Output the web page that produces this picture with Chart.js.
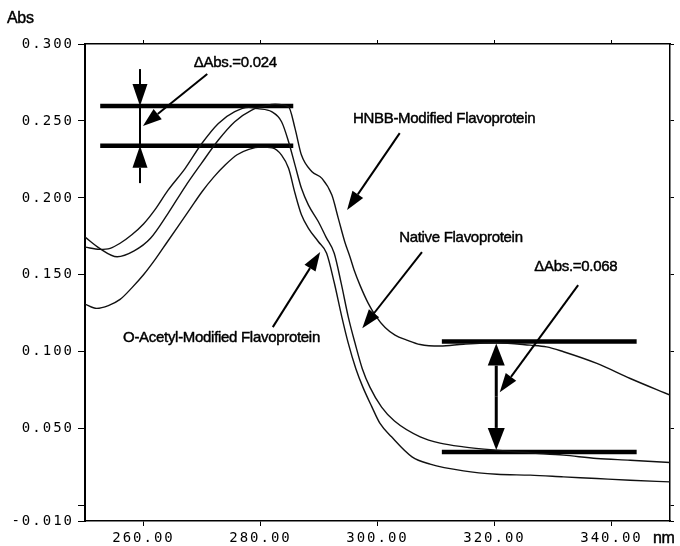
<!DOCTYPE html>
<html>
<head>
<meta charset="utf-8">
<title>Flavoprotein absorption spectra</title>
<script src="https://cdn.jsdelivr.net/npm/chart.js@4.4.1/dist/chart.umd.min.js"></script>
<style>
  html, body { margin: 0; padding: 0; background: #fff; }
  #wrap { width: 680px; height: 546px; }
</style>
</head>
<body>
<div id="wrap"><canvas id="spectra"></canvas></div>
<script>
// Spectra: wavelength (nm) and absorbance
const hnbbNm = [250, 252.5, 255.5, 258.4, 261.2, 264.2, 267.1, 269.9, 272.8, 275.6, 278.5, 281.0, 282.5, 284.8, 285.9, 287.0, 288.8, 290.5, 292.2, 293.3, 294.4, 295.3, 296.0, 297.0, 298.4, 299.6, 301.3, 303.0, 305.0, 307.3, 310.7, 314.7, 320.4, 326.1, 328.9, 331.8, 337.5, 343.2, 350];
const hnbbAbs = [0.1745, 0.1672, 0.1617, 0.1655, 0.1737, 0.1899, 0.2072, 0.2224, 0.2376, 0.2495, 0.2571, 0.2600, 0.2608, 0.2592, 0.2452, 0.2278, 0.2170, 0.2127, 0.2018, 0.1867, 0.1715, 0.1616, 0.1531, 0.1433, 0.1316, 0.1238, 0.1157, 0.1108, 0.1076, 0.1047, 0.1037, 0.1049, 0.1058, 0.1043, 0.1032, 0.1000, 0.0924, 0.0826, 0.0718];

const nativeNm = [250, 252.5, 254.3, 256.0, 258.0, 260.0, 262.0, 264.2, 267.1, 269.9, 272.8, 275.6, 278.0, 279.5, 281.9, 283.6, 284.8, 285.9, 287.0, 288.2, 289.9, 291.2, 292.6, 293.8, 295.0, 296.2, 297.4, 298.7, 300.7, 302.9, 307.3, 310.7, 314.7, 320.4, 326.1, 331.8, 337.5, 343.2, 350];
const nativeAbs = [0.1680, 0.1665, 0.1672, 0.1705, 0.1760, 0.1830, 0.1925, 0.2050, 0.2190, 0.2350, 0.2484, 0.2560, 0.2588, 0.2580, 0.2560, 0.2495, 0.2365, 0.2213, 0.2062, 0.1953, 0.1845, 0.1745, 0.1640, 0.1444, 0.1227, 0.1050, 0.0890, 0.0770, 0.0640, 0.0550, 0.0447, 0.0406, 0.0382, 0.0360, 0.0343, 0.0328, 0.0306, 0.0295, 0.0280];

const acetylNm = [250, 252.0, 254.0, 256.0, 258.0, 260.0, 262.0, 264.0, 266.0, 268.0, 270.0, 272.0, 274.0, 276.0, 278.0, 280.0, 282.0, 283.6, 284.8, 285.9, 287.0, 288.2, 289.9, 291.3, 292.6, 293.9, 295.0, 296.3, 297.5, 299.0, 300.4, 302.4, 305.9, 309.0, 314.7, 320.4, 326.1, 331.8, 337.5, 343.2, 350];
const acetylAbs = [0.1310, 0.1282, 0.1300, 0.1340, 0.1415, 0.1500, 0.1600, 0.1710, 0.1820, 0.1930, 0.2040, 0.2135, 0.2215, 0.2280, 0.2315, 0.2330, 0.2325, 0.2278, 0.2192, 0.2030, 0.1890, 0.1802, 0.1715, 0.1640, 0.1450, 0.1227, 0.1056, 0.0890, 0.0770, 0.0645, 0.0536, 0.0447, 0.0317, 0.0270, 0.0226, 0.0204, 0.0198, 0.0187, 0.0176, 0.0165, 0.0154];

const xTicks = [260, 280, 300, 320, 340];
const yTicks = [-0.010, 0.000, 0.050, 0.100, 0.150, 0.200, 0.250, 0.300];

// ΔAbs reference levels (peak pair and 320 nm pair)
const peakLevels = [0.2597, 0.2339];
const tailLevels = [0.1066, 0.0349];

// where the reference bars run, in nm
const peakSpan = [252.6, 285.6];
const tailSpan = [311.0, 344.3];

const toPts = (xs, ys) => xs.map((v, i) => ({ x: v, y: ys[i] }));

const curve = (label, xs, ys) => ({
  label, data: toPts(xs, ys),
  borderColor: '#111', borderWidth: 1.4,
  pointRadius: 0, cubicInterpolationMode: 'monotone', fill: false,
});
const bar = (span, level) => ({
  data: [{ x: span[0], y: level }, { x: span[1], y: level }],
  borderColor: '#000', borderWidth: 4.5, borderCapStyle: 'butt',
  pointRadius: 0, fill: false,
});

// Arrows and labels, in data units
const pointers = [
  { from: [270.9, 0.2805], to: [259.9, 0.2467] },   // ΔAbs 0.024
  { from: [303.8, 0.2421], to: [294.8, 0.1921] },   // HNBB
  { from: [307.6, 0.1648], to: [297.4, 0.1153] },   // native
  { from: [282.1, 0.1160], to: [290.2, 0.1648] },   // O-acetyl
  { from: [334.3, 0.1433], to: [320.9, 0.0737] },   // ΔAbs 0.068
];
const labels = [
  { text: 'ΔAbs.=0.024', at: [268.6, 0.2876] },
  { text: 'HNBB-Modified Flavoprotein', at: [295.8, 0.2512] },
  { text: 'Native Flavoprotein', at: [303.7, 0.1739] },
  { text: 'ΔAbs.=0.068', at: [326.8, 0.1550] },
  { text: 'O-Acetyl-Modified Flavoprotein', at: [256.5, 0.1089] },
];
const gaugeX = [259.4, 320.3];

function arrow(ctx, x0, y0, x1, y1, len, half, lw) {
  const a = Math.atan2(y1 - y0, x1 - x0);
  const bx = x1 - len * Math.cos(a), by = y1 - len * Math.sin(a);
  ctx.lineWidth = lw;
  ctx.beginPath(); ctx.moveTo(x0, y0); ctx.lineTo(bx, by); ctx.stroke();
  ctx.beginPath();
  ctx.moveTo(x1, y1);
  ctx.lineTo(bx + half * Math.sin(a), by - half * Math.cos(a));
  ctx.lineTo(bx - half * Math.sin(a), by + half * Math.cos(a));
  ctx.closePath(); ctx.fill();
}

const notes = {
  id: 'notes',
  beforeDraw(chart) { chart.ctx.letterSpacing = '2px'; },
  beforeDatasetsDraw(chart) { chart.ctx.letterSpacing = '0px'; },
  afterDatasetsDraw(chart) {
    const { ctx, scales: { x, y } } = chart;
    const X = v => x.getPixelForValue(v), Y = v => y.getPixelForValue(v);
    ctx.save();
    ctx.strokeStyle = '#000'; ctx.fillStyle = '#000';
    ctx.lineCap = 'butt';

    pointers.forEach(p => arrow(ctx, X(p.from[0]), Y(p.from[1]), X(p.to[0]), Y(p.to[1]), 19, 6.5, 2));

    // left gauge: arrows pointing in onto both bars
    const gl = X(gaugeX[0]);
    arrow(ctx, gl, Y(0.2837), gl, Y(peakLevels[0]), 22, 7.5, 2);
    arrow(ctx, gl, Y(0.2096), gl, Y(peakLevels[1]), 22, 7.5, 2);
    ctx.lineWidth = 2;
    ctx.beginPath(); ctx.moveTo(gl, Y(peakLevels[0])); ctx.lineTo(gl, Y(peakLevels[1])); ctx.stroke();

    // right gauge: double-headed
    const gr = X(gaugeX[1]);
    const mid = Y((tailLevels[0] + tailLevels[1]) / 2);
    arrow(ctx, gr, mid, gr, Y(tailLevels[0]) + 2, 22, 8.5, 3);
    arrow(ctx, gr, mid, gr, Y(tailLevels[1]) - 2, 22, 8.5, 3);

    // labels: slightly heavier than plain regular, like the scan
    ctx.font = '15px "Liberation Sans", Arial, sans-serif';
    ctx.letterSpacing = '-0.3px';
    ctx.textBaseline = 'middle'; ctx.textAlign = 'left';
    ctx.lineWidth = 0.45; ctx.lineJoin = 'round';
    labels.forEach(l => {
      ctx.fillText(l.text, X(l.at[0]), Y(l.at[1]));
      ctx.strokeText(l.text, X(l.at[0]), Y(l.at[1]));
    });

    // axis titles
    ctx.font = '16px "Liberation Sans", Arial, sans-serif';
    ctx.fillText('Abs', 7, 19);
    ctx.strokeText('Abs', 7, 19);
    ctx.fillText('nm', 653, 539);
    ctx.strokeText('nm', 653, 539);
    ctx.restore();
  }
};

const tickFont = { family: '"DejaVu Sans Mono", monospace', size: 14 };
const frame = { display: true, color: '#000', width: 1.5 };

new Chart(document.getElementById('spectra'), {
  type: 'line',
  data: {
    datasets: [
      curve('HNBB-Modified Flavoprotein', hnbbNm, hnbbAbs),
      curve('Native Flavoprotein', nativeNm, nativeAbs),
      curve('O-Acetyl-Modified Flavoprotein', acetylNm, acetylAbs),
      bar(peakSpan, peakLevels[0]), bar(peakSpan, peakLevels[1]),
      bar(tailSpan, tailLevels[0]), bar(tailSpan, tailLevels[1]),
    ]
  },
  options: {
    responsive: true, maintainAspectRatio: false, animation: false,
    layout: { padding: 0 },
    plugins: { legend: { display: false }, tooltip: { enabled: false } },
    scales: {
      x: {
        type: 'linear', position: 'bottom', min: 250, max: 350,
        afterBuildTicks: s => { s.ticks = xTicks.map(v => ({ value: v })); },
        afterFit: s => { s.height = 25; },
        ticks: { callback: v => v.toFixed(2), color: '#000', font: tickFont, padding: 4, autoSkip: false, maxRotation: 0 },
        grid: { drawOnChartArea: false, tickLength: 5, color: '#000' },
        border: frame,
      },
      xTop: {
        type: 'linear', position: 'top', min: 250, max: 350,
        afterBuildTicks: s => { s.ticks = xTicks.map(v => ({ value: v })); },
        afterFit: s => { s.height = 44; },
        ticks: { display: false },
        grid: { drawOnChartArea: false, tickLength: 4, color: '#000' },
        border: frame,
      },
      y: {
        type: 'linear', position: 'left', min: -0.010, max: 0.300,
        afterBuildTicks: s => { s.ticks = yTicks.map(v => ({ value: v })); },
        afterFit: s => { s.width = 85; },
        ticks: { callback: v => v === 0 ? '' : v.toFixed(3), color: '#000', font: tickFont, padding: 4, autoSkip: false },
        grid: { drawOnChartArea: false, tickLength: 7, color: '#000' },
        border: { display: true, color: '#000', width: 2 },
      },
      yRight: {
        type: 'linear', position: 'right', min: -0.010, max: 0.300,
        afterBuildTicks: s => { s.ticks = yTicks.map(v => ({ value: v })); },
        afterFit: s => { s.width = 10; },
        ticks: { display: false },
        grid: { drawOnChartArea: false, tickLength: 4, color: '#000' },
        border: frame,
      }
    }
  },
  plugins: [notes]
});
</script>
</body>
</html>
